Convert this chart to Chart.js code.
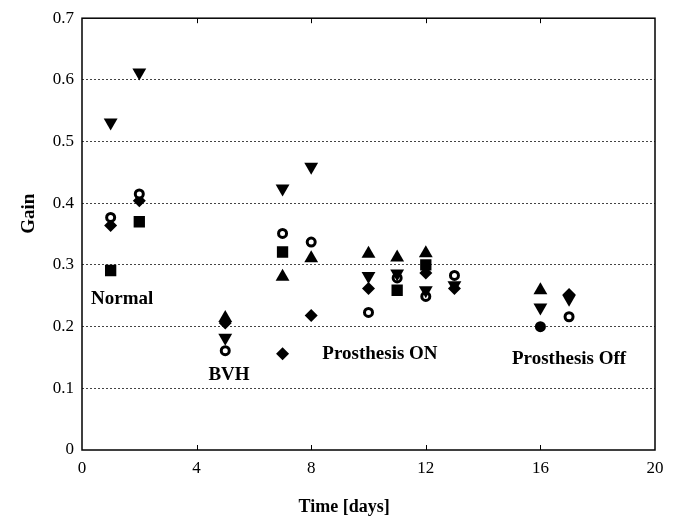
<!DOCTYPE html>
<html>
<head>
<meta charset="utf-8">
<script src="https://cdn.jsdelivr.net/npm/chart.js@4/dist/chart.umd.min.js"></script>
<style>
  html, body { margin: 0; padding: 0; background: #fff; }
  #wrap { width: 674px; height: 521px; }
</style>
</head>
<body>
<div id="wrap"><canvas id="chartCanvas" width="674" height="521"></canvas></div>
<script>
// values (x = day, y = gain)
const downTriX = [1, 2, 5, 7, 8, 10, 11, 12, 13, 16, 17];
const downTriY = [0.531, 0.612, 0.182, 0.424, 0.459, 0.282, 0.286, 0.259, 0.267, 0.231, 0.245];

const ringX = [1, 2, 5, 7, 8, 10, 11, 12, 13, 17];
const ringY = [0.377, 0.415, 0.161, 0.351, 0.337, 0.223, 0.279, 0.249, 0.283, 0.216];

const diamondX = [1, 2, 5, 7, 8, 10, 12, 13, 17];
const diamondY = [0.364, 0.404, 0.206, 0.156, 0.218, 0.262, 0.287, 0.262, 0.252];

const squareX = [1, 2, 7, 11, 12];
const squareY = [0.291, 0.370, 0.321, 0.259, 0.300];

const upTriX = [5, 7, 8, 10, 11, 12, 16];
const upTriY = [0.214, 0.281, 0.311, 0.318, 0.312, 0.319, 0.259];

const dotX = [16];
const dotY = [0.200];

const xTicks = [0, 4, 8, 12, 16, 20];
const yTicks = [0, 0.1, 0.2, 0.3, 0.4, 0.5, 0.6, 0.7];

// text labels placed in data units
const noteText = ['Normal', 'BVH', 'Prosthesis ON', 'Prosthesis Off'];
const noteX = [1.4, 5.13, 10.4, 17.0];
const noteY = [0.245, 0.122, 0.156, 0.148];

const pts = (xs, ys) => xs.map((x, i) => ({ x: x, y: ys[i] }));

const serif = '"Liberation Serif", "Times New Roman", serif';

// inward ticks, box frame, axis titles and the text notes
const framePlugin = {
  id: 'frame',
  afterDraw(chart) {
    const { ctx, chartArea: a, scales } = chart;
    ctx.save();
    ctx.strokeStyle = '#000';
    ctx.lineWidth = 1.5;
    ctx.strokeRect(a.left, a.top, a.right - a.left, a.bottom - a.top);
    ctx.lineWidth = 1;
    xTicks.slice(1, -1).forEach(v => {
      const px = Math.round(scales.x.getPixelForValue(v)) + 0.5;
      ctx.beginPath();
      ctx.moveTo(px, a.bottom); ctx.lineTo(px, a.bottom - 5);
      ctx.moveTo(px, a.top); ctx.lineTo(px, a.top + 5);
      ctx.stroke();
    });
    ctx.fillStyle = '#000';
    ctx.textAlign = 'center';
    ctx.textBaseline = 'middle';
    ctx.font = 'bold 19px ' + serif;
    noteText.forEach((t, i) => {
      ctx.fillText(t, scales.x.getPixelForValue(noteX[i]), scales.y.getPixelForValue(noteY[i]));
    });
    // axis titles
    ctx.font = 'bold 18px ' + serif;
    ctx.fillText('Time [days]', scales.x.getPixelForValue(9.15), a.bottom + 57);
    ctx.translate(29, scales.y.getPixelForValue(0.383));
    ctx.rotate(-Math.PI / 2);
    ctx.font = 'bold 19px ' + serif;
    ctx.fillText('Gain', 0, 0);
    ctx.restore();
  }
};

const ctx = document.getElementById('chartCanvas').getContext('2d');

new Chart(ctx, {
  type: 'scatter',
  data: {
    datasets: [
      { label: 'down', data: pts(downTriX, downTriY), pointStyle: 'triangle', rotation: 180,
        pointRadius: 8, backgroundColor: '#000', borderColor: '#000', borderWidth: 0 },
      { label: 'ring', data: pts(ringX, ringY), pointStyle: 'circle',
        pointRadius: 4, backgroundColor: '#fff', borderColor: '#000', borderWidth: 3 },
      { label: 'diamond', data: pts(diamondX, diamondY), pointStyle: 'rectRot',
        pointRadius: 6.5, backgroundColor: '#000', borderColor: '#000', borderWidth: 0 },
      { label: 'square', data: pts(squareX, squareY), pointStyle: 'rect',
        pointRadius: 8, backgroundColor: '#000', borderColor: '#000', borderWidth: 0 },
      { label: 'up', data: pts(upTriX, upTriY), pointStyle: 'triangle',
        pointRadius: 8, backgroundColor: '#000', borderColor: '#000', borderWidth: 0 },
      { label: 'dot', data: pts(dotX, dotY), pointStyle: 'circle',
        pointRadius: 5.5, backgroundColor: '#000', borderColor: '#000', borderWidth: 0 }
    ]
  },
  options: {
    responsive: false,
    animation: false,
    layout: { padding: { left: 0, right: 19, top: 14, bottom: 0 } },
    plugins: {
      legend: { display: false },
      tooltip: { enabled: false }
    },
    scales: {
      x: {
        type: 'linear',
        min: 0, max: 20,
        afterBuildTicks: s => { s.ticks = xTicks.map(v => ({ value: v })); },
        afterFit: s => { s.height = 71; },
        grid: { display: false, drawTicks: false },
        border: { display: false },
        ticks: { padding: 8, color: '#000', font: { family: serif, size: 17 } }
      },
      y: {
        type: 'linear',
        min: 0, max: 0.7,
        afterBuildTicks: s => { s.ticks = yTicks.map(v => ({ value: v })); },
        afterFit: s => { s.width = 82; },
        grid: {
          drawTicks: false,
          color: ctx => (ctx.tick && ctx.tick.value > 0 && ctx.tick.value < 0.7) ? '#444' : 'rgba(0,0,0,0)',
          lineWidth: 1
        },
        border: { display: false, dash: [2, 2] },
        ticks: { padding: 8, color: '#000', font: { family: serif, size: 17 },
          callback: v => (v === 0 ? '0' : v.toFixed(1)) }
      }
    }
  },
  plugins: [framePlugin]
});
</script>
</body>
</html>
